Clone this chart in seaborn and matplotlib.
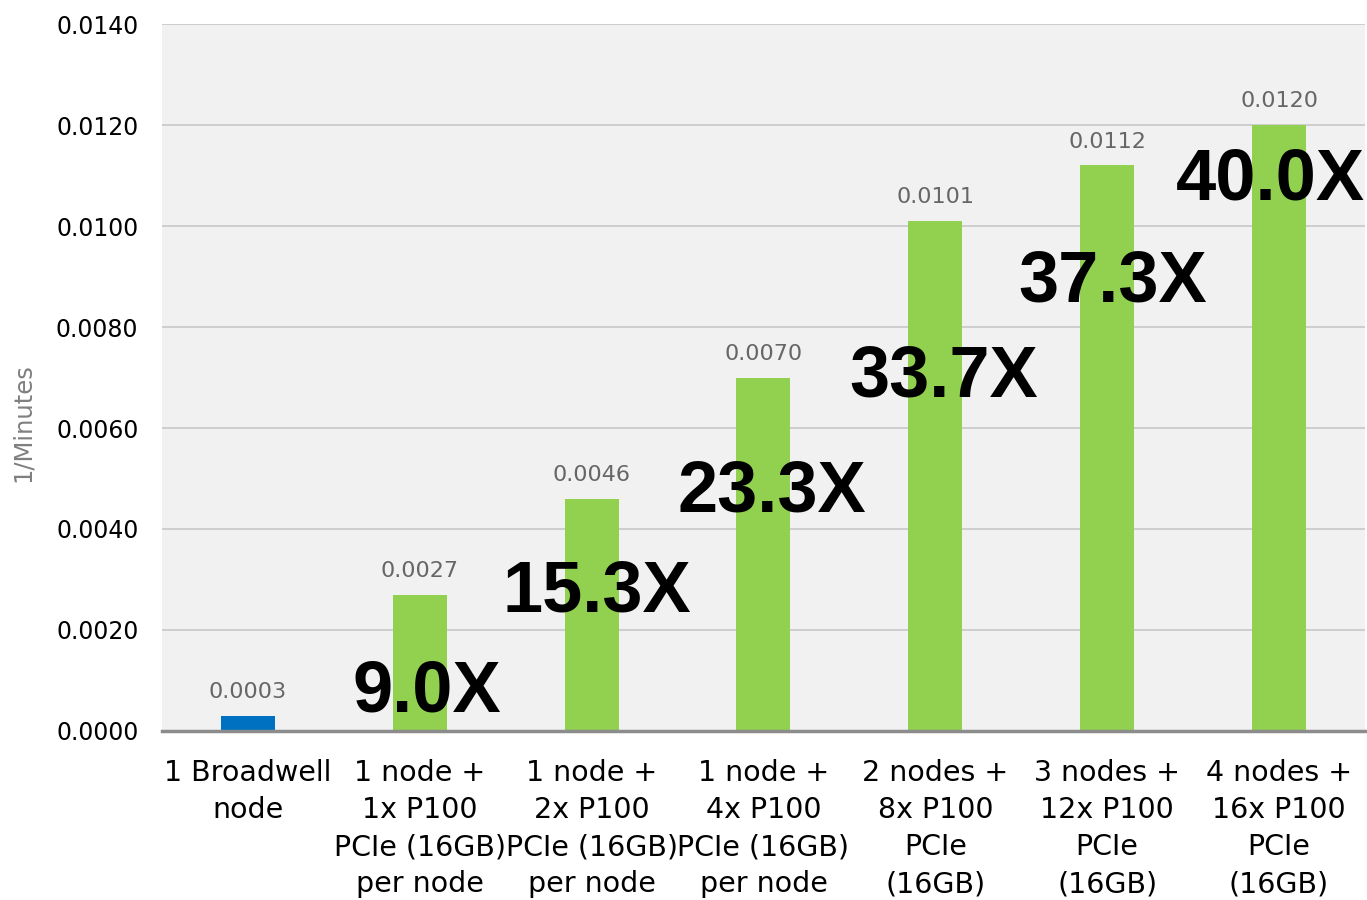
import matplotlib
matplotlib.use("Agg")
import matplotlib.pyplot as plt
import seaborn as sns
import pandas as pd

# chart data
categories = [
    "1 Broadwell\nnode",
    "1 node +\n1x P100\nPCIe (16GB)\nper node",
    "1 node +\n2x P100\nPCIe (16GB)\nper node",
    "1 node +\n4x P100\nPCIe (16GB)\nper node",
    "2 nodes +\n8x P100\nPCIe\n(16GB)",
    "3 nodes +\n12x P100\nPCIe\n(16GB)",
    "4 nodes +\n16x P100\nPCIe\n(16GB)",
]
values = [0.0003, 0.0027, 0.0046, 0.0070, 0.0101, 0.0112, 0.0120]
speedups = ["", "9.0X", "15.3X", "23.3X", "33.7X", "37.3X", "40.0X"]

# layout of the big speed-up labels (baseline y in data units, x shift in categories)
speedup_y = [0, 0.00038, 0.00236, 0.00434, 0.00663, 0.00850, 0.01052]
speedup_dx = [0, 0.04, 0.03, 0.05, 0.05, 0.03, -0.05]

colors = ["#0070C0"] + ["#92D050"] * 6

df = pd.DataFrame({"config": categories, "rate": values})

sns.set_theme(style="white")
plt.rcParams["font.family"] = ["DejaVu Sans"]

fig = plt.figure(figsize=(13.67, 9), dpi=100)
ax = fig.add_axes([0.1185, 0.1878, 0.88, 0.7855])
ax.set_facecolor("#F1F1F1")

sns.barplot(data=df, x="config", y="rate", hue="config", palette=colors,
            width=0.314, legend=False, saturation=1, linewidth=0, ax=ax, zorder=3)

ax.set_ylim(0, 0.014)
ax.set_yticks([i * 0.002 for i in range(8)])
ax.set_yticklabels([f"{i * 0.002:.4f}" for i in range(8)], fontsize=17, color="black")
ax.yaxis.grid(True, color="#C8C8C8", linewidth=1.2, zorder=0)
ax.set_axisbelow(True)
ax.tick_params(axis="y", length=0, pad=17)

ax.set_xticks(range(len(categories)))
ax.set_xticklabels(categories, fontsize=20.5, color="black", linespacing=1.42,
                   va="top")
ax.tick_params(axis="x", length=0, pad=20)

for s in ["top", "right", "left"]:
    ax.spines[s].set_visible(False)
ax.spines["bottom"].set_color("#8C8C8C")
ax.spines["bottom"].set_linewidth(2.5)
ax.spines["bottom"].set_zorder(4)

ax.set_xlabel("")
ax.set_ylabel("1/Minutes", fontsize=17.5, color="#7F7F7F")
ax.yaxis.set_label_coords(-0.1056, 0.436)

for i, v in enumerate(values):
    ax.annotate(f"{v:.4f}", (i, v), xytext=(0, 10), textcoords="offset points",
                ha="center", va="bottom", fontsize=16, color="#666666", zorder=5)
    if speedups[i]:
        ax.text(i + speedup_dx[i], speedup_y[i], speedups[i], ha="center",
                va="baseline", fontsize=52, fontweight="bold", color="black",
                family=["Liberation Sans"], zorder=6)

plt.savefig("out.png", dpi=100)
plt.close()
